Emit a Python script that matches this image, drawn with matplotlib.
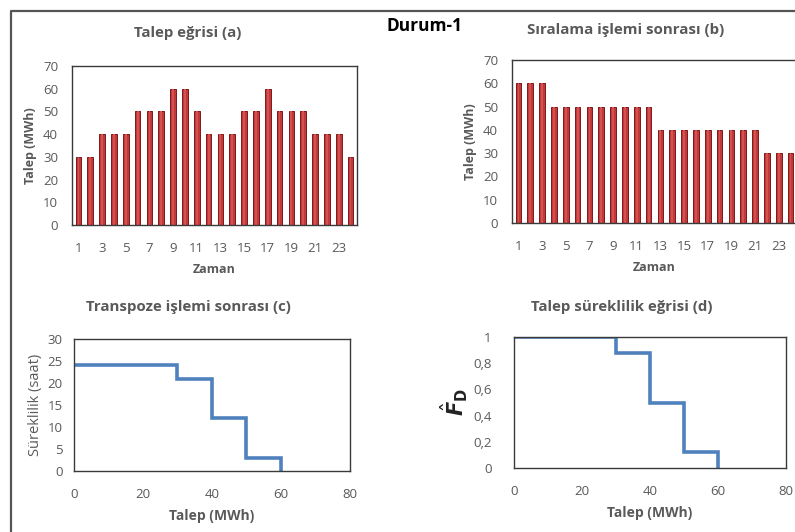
import matplotlib
matplotlib.use("Agg")
import matplotlib.pyplot as plt
from matplotlib.lines import Line2D

plt.rcParams['font.family'] = ['Open Sans', 'DejaVu Sans']

# Hourly demand (MWh)
hours = list(range(1, 25))
demand = [30, 30, 40, 40, 40, 50, 50, 50, 60, 60, 50, 40,
          40, 40, 50, 50, 60, 50, 50, 50, 40, 40, 40, 30]
# Demand sorted in descending order
demand_sorted = [60, 60, 60, 50, 50, 50, 50, 50, 50, 50, 50, 50,
                 40, 40, 40, 40, 40, 40, 40, 40, 40, 30, 30, 30]
# Step curve: demand level vs. duration (hours)
level = [0, 30, 30, 40, 40, 50, 50, 60, 60]
duration = [24, 24, 21, 21, 12, 12, 3, 3, 0]
# Normalised duration
fd = [1, 1, 0.875, 0.875, 0.5, 0.5, 0.125, 0.125, 0]

xtick_hours = list(range(1, 24, 2))

GRAY = '#595959'
BAR = '#C0393B'
BAR_EDGE = '#7E1818'
LINE = '#4F81BD'

fig = plt.figure(figsize=(7.95, 5.32), dpi=100)
W, H = 795, 532


def ax_px(left, top, right, bottom):
    return fig.add_axes([left / W, 1 - bottom / H, (right - left) / W, (bottom - top) / H])


def style(ax):
    for s in ax.spines.values():
        s.set_color('#3a3a3a')
        s.set_linewidth(1.0)
    ax.tick_params(length=0, colors=GRAY, labelsize=9.5)
    for lab in ax.get_xticklabels() + ax.get_yticklabels():
        lab.set_color(GRAY)


def bars(ax, values):
    ax.bar(hours, values, width=0.48, color=BAR, edgecolor=BAR_EDGE, linewidth=0.7)
    # lighter centre stripe for a rounded look
    ax.bar(hours, values, width=0.16, color='#D65050', linewidth=0)
    ax.set_xlim(0.45, 24.55)
    ax.set_ylim(0, 70)
    ax.set_yticks(range(0, 71, 10))
    ax.set_xticks(xtick_hours)
    ax.tick_params(axis='x', pad=12)
    ax.tick_params(axis='y', pad=10)
    ax.set_xlabel('Zaman', color=GRAY, fontsize=9, fontweight='bold', labelpad=6)
    ax.set_ylabel('Talep (MWh)', color=GRAY, fontsize=9, fontweight='bold', labelpad=4)
    style(ax)


# (a) demand curve
ax_a = ax_px(72, 66, 357, 225)
bars(ax_a, demand)

# (b) sorted demand
ax_b = ax_px(512, 60, 797, 223)
bars(ax_b, demand_sorted)

# (c) transposed
ax_c = ax_px(74, 339, 350, 471)
ax_c.plot(level, duration, color=LINE, linewidth=2.6, solid_joinstyle='miter')
ax_c.set_xlim(0, 80)
ax_c.set_ylim(0, 30)
ax_c.set_xticks(range(0, 81, 20))
ax_c.set_yticks(range(0, 31, 5))
ax_c.tick_params(axis='x', pad=12)
ax_c.tick_params(axis='y', pad=8)
ax_c.set_xlabel('Talep (MWh)', color=GRAY, fontsize=10, fontweight='bold', labelpad=6)
ax_c.set_ylabel('Süreklilik (saat)', color=GRAY, fontsize=10.5, labelpad=3)
style(ax_c)

# (d) load duration curve
ax_d = ax_px(514, 337, 786, 468)
ax_d.plot(level, fd, color=LINE, linewidth=2.6, solid_joinstyle='miter')
ax_d.set_xlim(0, 80)
ax_d.set_ylim(0, 1)
ax_d.set_xticks(range(0, 81, 20))
ax_d.set_yticks([0, 0.2, 0.4, 0.6, 0.8, 1])
ax_d.set_yticklabels(['0', '0,2', '0,4', '0,6', '0,8', '1'])
ax_d.tick_params(axis='x', pad=12)
ax_d.tick_params(axis='y', pad=16)
ax_d.set_xlabel('Talep (MWh)', color=GRAY, fontsize=10, fontweight='bold', labelpad=6)
ax_d.set_ylabel(r'$\hat{\mathbfit{F}}_{\mathbf{D}}$', color='#222222', fontsize=15, labelpad=2)
style(ax_d)

# panel titles
fig.text(188 / W, 1 - 33 / H, 'Talep eğrisi (a)', ha='center', va='center',
         color=GRAY, fontsize=10.8, fontweight='bold')
fig.text(626 / W, 1 - 30 / H, 'Sıralama işlemi sonrası (b)', ha='center', va='center',
         color=GRAY, fontsize=10.8, fontweight='bold')
fig.text(188 / W, 1 - 307 / H, 'Transpoze işlemi sonrası (c)', ha='center', va='center',
         color=GRAY, fontsize=10.8, fontweight='bold')
fig.text(622 / W, 1 - 307 / H, 'Talep süreklilik eğrisi (d)', ha='center', va='center',
         color=GRAY, fontsize=10.8, fontweight='bold')
fig.text(424 / W, 1 - 26 / H, 'Durum-1', ha='center', va='center',
         color='black', fontsize=12.5, fontweight='bold')

# outer frame (top and left edges)
fig.add_artist(Line2D([10.5 / W, 10.5 / W, 1.0], [0.0, 1 - 10.5 / H, 1 - 10.5 / H],
                      transform=fig.transFigure, color='#555555', linewidth=1.6))

fig.savefig('out.png', dpi=100)
